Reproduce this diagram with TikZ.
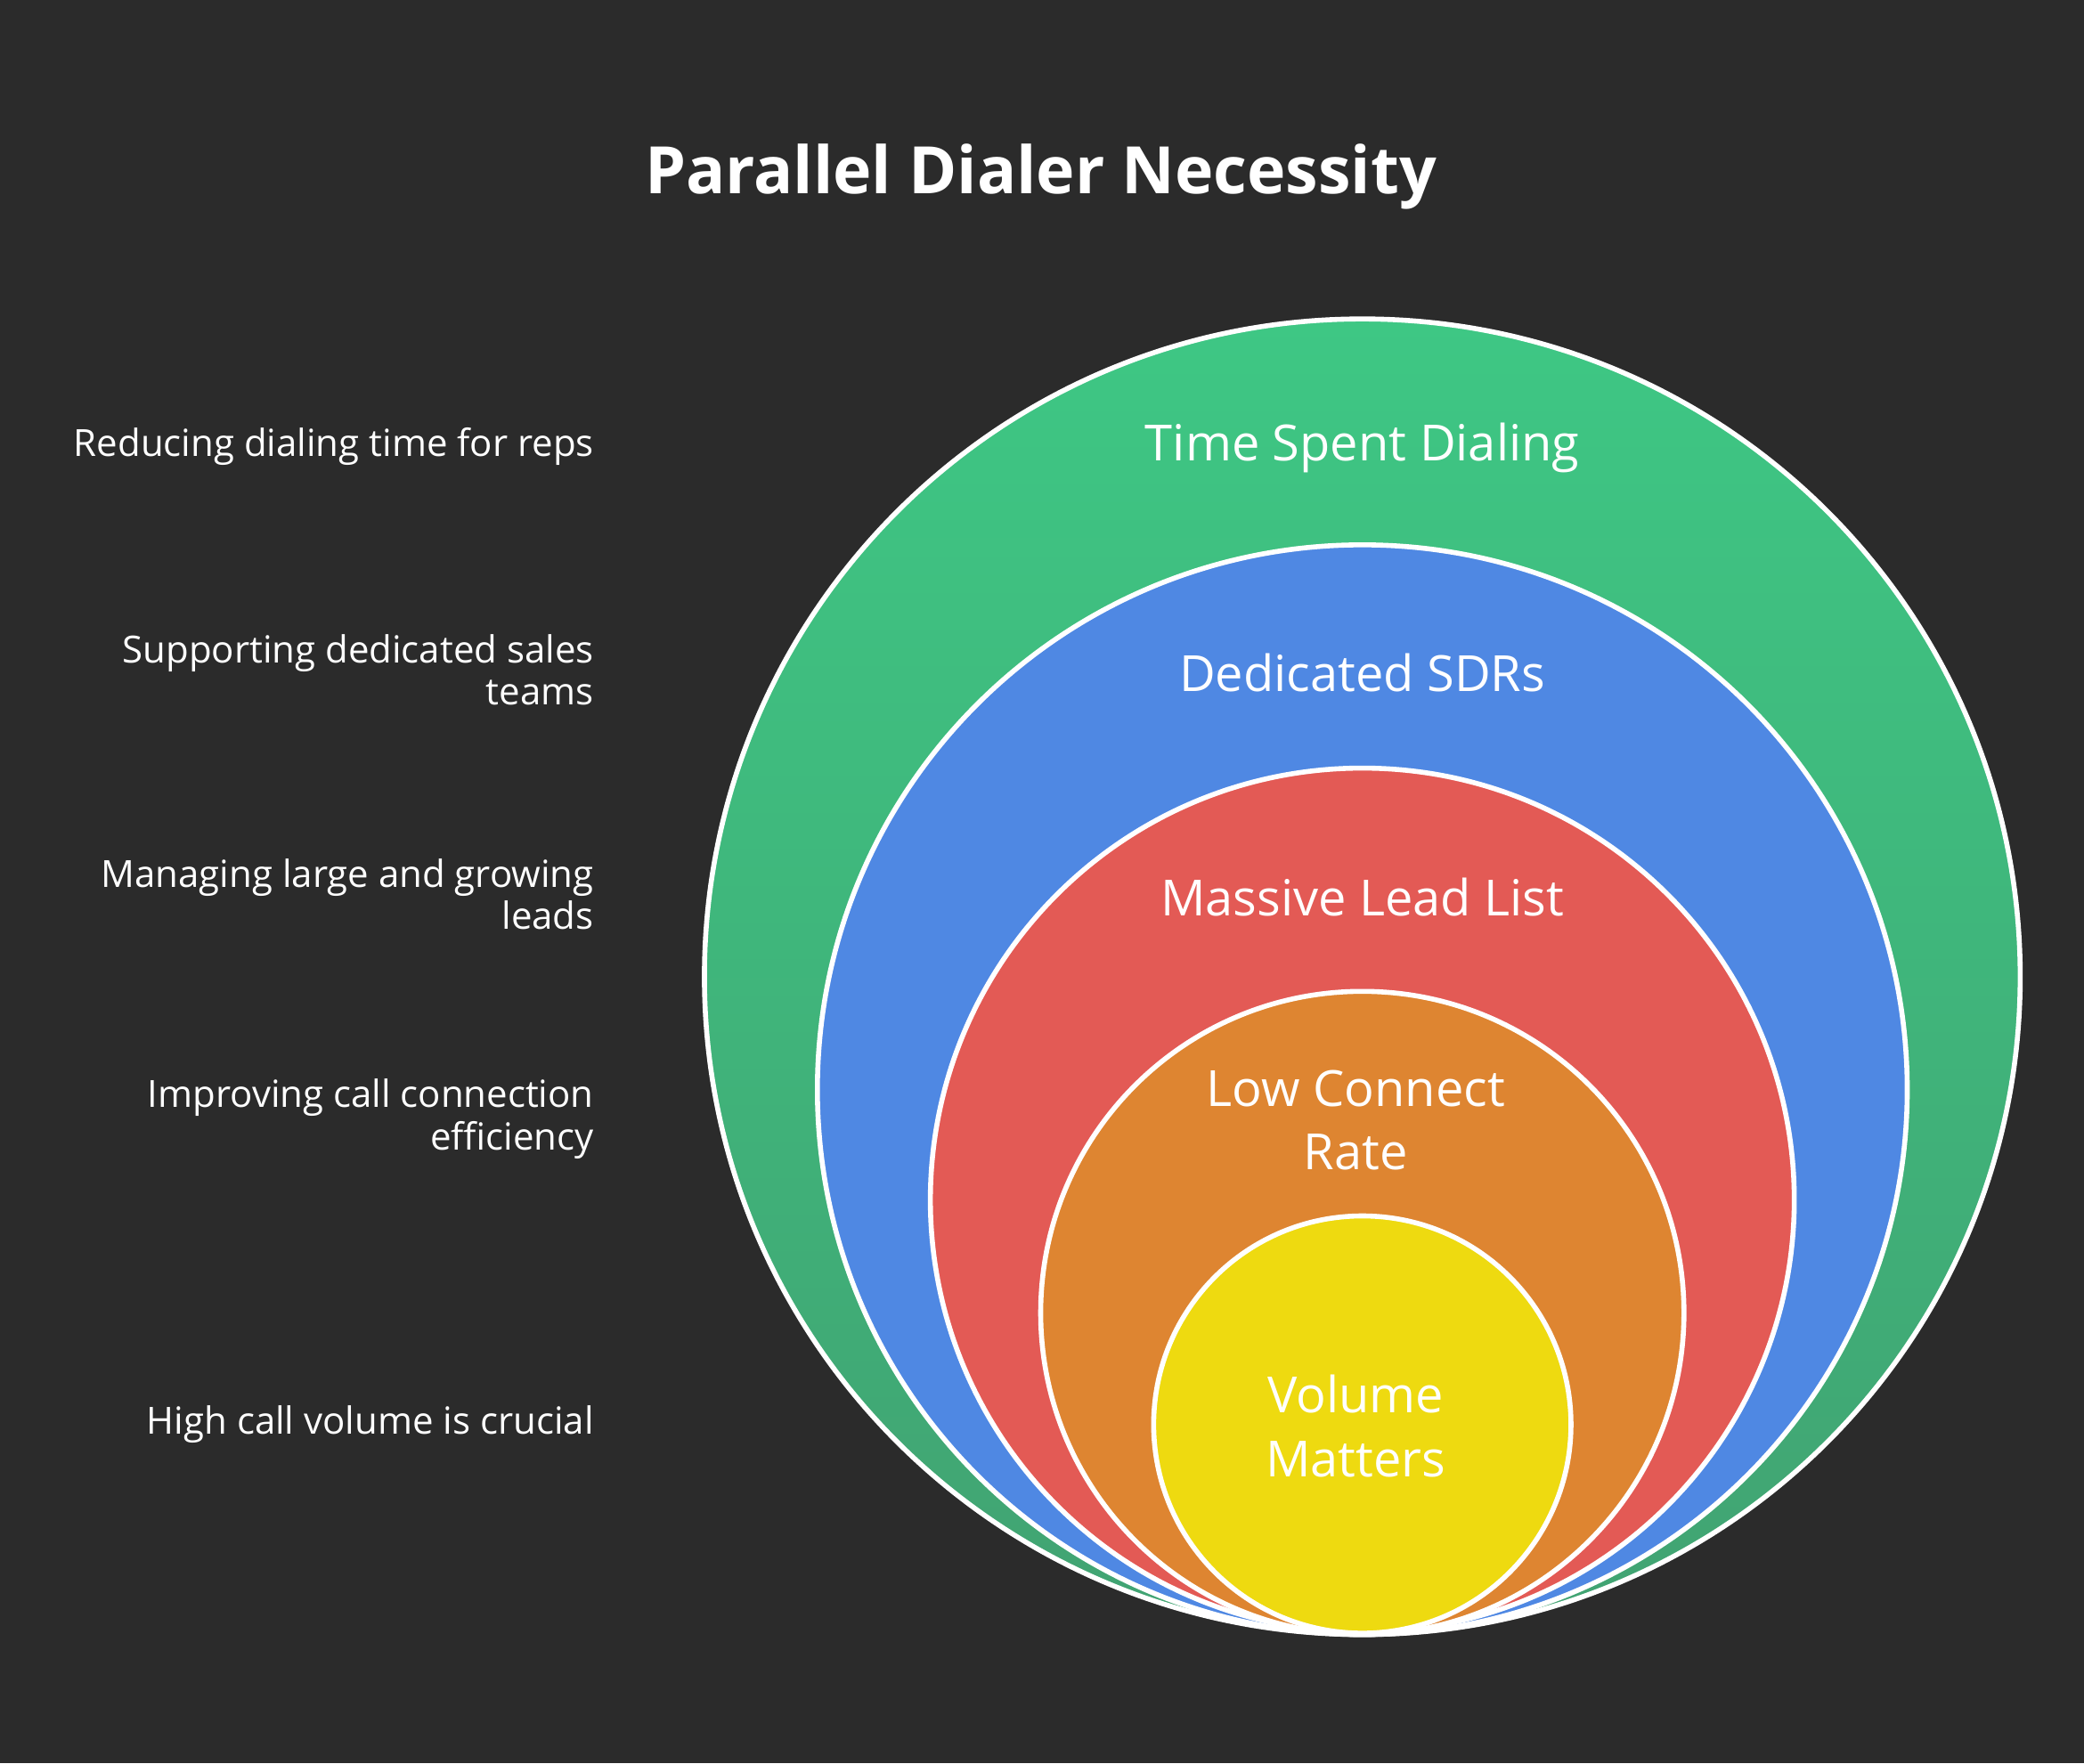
\documentclass[tikz,border=0pt]{standalone}
\usepackage{fontspec}
\setmainfont{Open Sans}
\definecolor{bg}{HTML}{2B2B2B}
\definecolor{greenA}{HTML}{3EC784}
\definecolor{greenB}{HTML}{41A372}
\definecolor{blueC}{HTML}{4F88E3}
\definecolor{redC}{HTML}{E35A55}
\definecolor{orangeC}{HTML}{DE8531}
\definecolor{yellowC}{HTML}{EEDA10}
\tikzset{
  ring/.style={draw=white, line width=1.6pt},
  ringlabel/.style={text=white, font=\fontsize{16}{20.5}\selectfont, align=center},
  sidelabel/.style={text=white, font=\fontsize{12}{13.6}\selectfont, align=right, anchor=east},
}
\begin{document}
\begin{tikzpicture}[x=0.015cm, y=-0.015cm]
  % background
  \fill[bg] (0,0) rectangle (1568,1327);
  \useasboundingbox (0,0) rectangle (1568,1327);
  % title
  \node[text=white, font=\fontsize{21}{24}\selectfont\bfseries] (title) at (783,133) {Parallel Dialer Necessity};
  % nested circles
  \shade[ring, top color=greenA, bottom color=greenB] (1025,735) circle (495);
  \draw[ring, fill=blueC] (1025,820) circle (410);
  \draw[ring, fill=redC] (1025,903) circle (325);
  \draw[ring, fill=orangeC] (1025,988) circle (242);
  \draw[ring, fill=yellowC] (1025,1072) circle (157);
  % circle labels
  \node[ringlabel] (time) at (1025,337) {Time Spent Dialing};
  \node[ringlabel] (sdrs) at (1025,506) {Dedicated SDRs};
  \node[ringlabel] (leads) at (1025,675) {Massive Lead List};
  \node[ringlabel] (connect) at (1020,843) {Low Connect\\Rate};
  \node[ringlabel] (volume) at (1020,1073) {Volume\\Matters};
  % side labels
  \node[sidelabel] (reduce) at (455,336) {Reducing dialing time for reps};
  \node[sidelabel] (support) at (455,504) {Supporting dedicated sales\\teams};
  \node[sidelabel] (manage) at (455,673) {Managing large and growing\\leads};
  \node[sidelabel] (improve) at (455,842) {Improving call connection\\efficiency};
  \node[sidelabel] (high) at (455,1072) {High call volume is crucial};
\end{tikzpicture}
\end{document}
